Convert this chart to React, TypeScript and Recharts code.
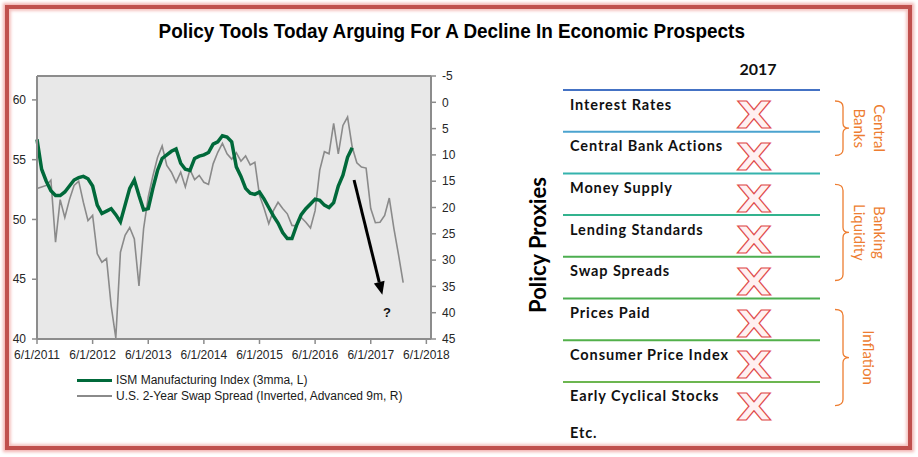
import { LineChart, Line, XAxis, YAxis, CartesianGrid, ReferenceLine, ReferenceDot } from 'recharts';

// x axis is months since 6/1/2011
const START_YEAR = 2011;
const xTicks = [0, 12, 24, 36, 48, 60, 72, 84];
const leftTicks = [40, 45, 50, 55, 60];
const rightTicks = [-5, 0, 5, 10, 15, 20, 25, 30, 35, 40, 45];

// ISM Manufacturing Index (3mma), monthly from Jun 2011
const ismValues = [
  56.7, 54.2, 53.2, 52.4, 52.0, 52.0, 52.3, 52.8, 53.3, 53.5, 53.6, 53.4,
  52.8, 51.2, 50.5, 50.7, 50.9, 50.4, 49.8, 51.2, 52.6, 53.3, 52.0, 50.8,
  50.9, 52.6, 54.1, 55.1, 55.4, 55.7, 55.9, 54.7, 54.2, 54.1, 55.1, 55.3,
  55.4, 55.6, 56.3, 56.5, 57.0, 56.9, 56.5, 54.4, 53.6, 52.6, 52.2, 52.1,
  52.3, 51.7, 51.0, 50.3, 49.7, 48.9, 48.4, 48.4, 49.5, 50.4, 50.9, 51.3,
  51.7, 51.6, 51.2, 51.0, 51.4, 52.8, 53.7, 55.2, 56.0,
];

// U.S. 2-Year Swap Spread (inverted, advanced 9m), monthly from Jun 2011
const swapValues = [
  16.4, 16.1, 15.8, 14.8, 26.6, 18.5, 21.9, 18.5, 15.8, 15.0, 19.0, 22.5,
  21.5, 28.8, 30.4, 29.7, 38.7, 44.8, 28.5, 25.3, 23.8, 26.0, 34.9, 24.0,
  18.0, 14.0, 10.5, 8.3, 12.0, 13.3, 15.2, 13.3, 16.1, 12.8, 14.7, 13.9,
  15.2, 15.6, 11.7, 9.5, 7.8, 9.8, 10.8, 9.6, 11.2, 10.2, 11.9, 11.4,
  17.7, 20.2, 23.1, 20.6, 19.0, 20.2, 21.2, 23.4, 23.5, 21.9, 22.8, 23.9,
  20.6, 12.9, 9.4, 9.8, 4.0, 9.8, 4.4, 2.8, 8.5, 11.5, 12.3, 12.5,
  20.2, 22.9, 22.8, 21.5, 18.2, 24.0, 29.0, 34.3,
];

// arrow annotation (month, left-axis value)
const arrowFrom = { x: 68.4, y: 53.3 };
const arrowTo = { x: 74.5, y: 43.7 };
const questionMark = { x: 75.5, y: 42.2 };

const proxies = [
  'Interest Rates',
  'Central Bank Actions',
  'Money Supply',
  'Lending Standards',
  'Swap Spreads',
  'Prices Paid',
  'Consumer Price Index',
  'Early Cyclical Stocks',
];
const proxyLineColors = ['#4472c4', '#4ba3cf', '#35b3ad', '#33b38e', '#4cae50', '#4cae50', '#52b04a', '#6cb650'];
const groups = [
  { lines: ['Central', 'Banks'], from: 0, to: 2 },
  { lines: ['Banking', 'Liquidity'], from: 2, to: 5 },
  { lines: ['Inflation'], from: 5, to: 8 },
];

const chartData = swapValues.map((swap, m) => ({
  m,
  swap,
  ism: m < ismValues.length ? ismValues[m] : null,
}));

const axisFont = { fontFamily: '"Liberation Sans", Arial, sans-serif', fontSize: 12, fill: '#262626' };
const axisStroke = { stroke: '#8c8c8c', strokeWidth: 2 };
const calibri = 'Lato, "Open Sans", sans-serif';

const ROW_TOP = 90;
const ROW_H = 41.7;

function Arrow(props: any) {
  const { x1, y1, x2, y2 } = props;
  const ang = Math.atan2(y2 - y1, x2 - x1);
  const len = 13;
  const hw = 5.5;
  const bx = x2 - len * Math.cos(ang);
  const by = y2 - len * Math.sin(ang);
  const px = -Math.sin(ang) * hw;
  const py = Math.cos(ang) * hw;
  return (
    <g>
      <line x1={x1} y1={y1} x2={bx} y2={by} stroke="#000" strokeWidth={3} />
      <polygon points={`${x2},${y2} ${bx + px},${by + py} ${bx - px},${by - py}`} fill="#000" />
    </g>
  );
}

function PolicyPanel() {
  return (
    <svg width={918} height={457} style={{ position: 'absolute', left: 0, top: 0 }}>
      <text x={758} y={68} textAnchor="middle" dominantBaseline="central" fontFamily={calibri} fontWeight="bold" fontSize={16} fill="#111">
        2017
      </text>
      <text
        transform="translate(537,245) rotate(-90)"
        textAnchor="middle"
        dominantBaseline="central"
        fontFamily={calibri}
        fontWeight="bold"
        fontSize={22}
        fill="#000"
      >
        Policy Proxies
      </text>
      {proxies.map((p, i) => {
        const top = ROW_TOP + i * ROW_H;
        return (
          <g key={p}>
            <line x1={563} x2={820} y1={top} y2={top} stroke={proxyLineColors[i]} strokeWidth={2} />
            <text x={570} y={top + 14} dominantBaseline="central" fontFamily={calibri} fontWeight="bold" fontSize={14.5} letterSpacing={0.9} fill="#111">
              {p}
            </text>
            <text
              transform={`translate(754,${top + 25}) scale(1.2,1)`}
              textAnchor="middle"
              dominantBaseline="central"
              fontFamily='"DejaVu Sans", sans-serif'
              fontWeight="bold"
              fontSize={38}
              fill="#fff0f0"
              stroke="#e04a4a"
              strokeWidth={1.1}
            >
              X
            </text>
          </g>
        );
      })}
      <text x={570} y={ROW_TOP + proxies.length * ROW_H + 9} dominantBaseline="central" fontFamily={calibri} fontWeight="bold" fontSize={14.5} letterSpacing={0.9} fill="#111">
        Etc.
      </text>
      {groups.map((g) => {
        const top = ROW_TOP + g.from * ROW_H + 11;
        const bottom = ROW_TOP + g.to * ROW_H - 18;
        const mid = (top + bottom) / 2;
        const textX = g.lines.length > 1 ? 880 : 869;
        return (
          <g key={g.lines.join(' ')}>
            <path
              d={`M835,${top} Q843,${top} 843,${top + 6} L843,${mid - 5} Q843,${mid} 849,${mid} Q843,${mid} 843,${mid + 5} L843,${bottom - 6} Q843,${bottom} 835,${bottom}`}
              fill="none"
              stroke="#ed7d31"
              strokeWidth={1.3}
            />
            {g.lines.map((l, k) => (
              <text
                key={l}
                transform={`translate(${textX - k * 20},${mid}) rotate(90)`}
                textAnchor="middle"
                dominantBaseline="central"
                fontFamily={calibri}
                fontSize={15}
                fill="#ed7d31"
              >
                {l}
              </text>
            ))}
          </g>
        );
      })}
    </svg>
  );
}

export default function App() {
  return (
    <div style={{ position: 'absolute', left: 0, top: 0, width: 918, height: 457, background: '#fff', overflow: 'hidden' }}>
      <div
        style={{
          position: 'absolute',
          left: 5,
          top: 5,
          width: 907,
          height: 445,
          boxSizing: 'border-box',
          border: '4px solid #c0504d',
          boxShadow: '0 0 3px 2px #f2b2b0, inset 0 0 3px 2px #f5c4c2',
        }}
      />
      <div style={{ position: 'absolute', left: 0, width: 904, top: 19, textAlign: 'center' }}>
        <span
          style={{
            display: 'inline-block',
            transform: 'scaleX(0.9)',
            fontFamily: '"Liberation Sans", Arial, sans-serif',
            fontWeight: 'bold',
            fontSize: 21,
            color: '#000',
            whiteSpace: 'nowrap',
          }}
        >
          Policy Tools Today Arguing For A Decline In Economic Prospects
        </span>
      </div>

      <div style={{ position: 'absolute', left: 0, top: 60 }}>
        <LineChart width={470} height={320} data={chartData} margin={{ top: 15, right: 9, bottom: 16, left: 0 }}>
          <CartesianGrid horizontal={false} vertical={false} fill="#e8e8e8" />
          <XAxis
            dataKey="m"
            type="number"
            domain={[0, 85]}
            ticks={xTicks}
            tickFormatter={(m: number) => `6/1/${START_YEAR + m / 12}`}
            tick={axisFont}
            axisLine={axisStroke}
            tickLine={{ stroke: '#8c8c8c', strokeWidth: 1.5 }}
            tickSize={5}
            tickMargin={6}
            height={25}
            interval={0}
          />
          <XAxis
            xAxisId="top"
            orientation="top"
            dataKey="m"
            type="number"
            domain={[0, 85]}
            tick={false}
            tickLine={false}
            axisLine={axisStroke}
            height={1}
          />
          <YAxis
            domain={[40, 62]}
            ticks={leftTicks}
            tick={axisFont}
            axisLine={axisStroke}
            tickLine={{ stroke: '#8c8c8c', strokeWidth: 1.5 }}
            tickSize={5}
            tickMargin={6}
            width={37}
            allowDataOverflow
          />
          <YAxis
            yAxisId="right"
            orientation="right"
            reversed
            domain={[-5, 45]}
            ticks={rightTicks}
            tick={{ ...axisFont, textAnchor: 'start' }}
            axisLine={axisStroke}
            tickLine={{ stroke: '#8c8c8c', strokeWidth: 1.5 }}
            tickSize={5}
            tickMargin={6}
            width={30}
            interval={0}
          />
          <Line
            yAxisId="right"
            type="linear"
            dataKey="swap"
            stroke="#8a8a8a"
            strokeWidth={1.6}
            dot={false}
            isAnimationActive={false}
          />
          <Line
            type="linear"
            dataKey="ism"
            stroke="#00693a"
            strokeWidth={3.5}
            dot={false}
            connectNulls={false}
            isAnimationActive={false}
          />
          <ReferenceLine segment={[arrowFrom, arrowTo]} shape={Arrow} ifOverflow="visible" />
          <ReferenceDot
            x={questionMark.x}
            y={questionMark.y}
            r={0}
            ifOverflow="visible"
            shape={(p: any) => (
              <text x={p.cx} y={p.cy} textAnchor="middle" dominantBaseline="central" fontFamily='"Liberation Sans", Arial, sans-serif' fontWeight="bold" fontSize={13} fill="#111">
                ?
              </text>
            )}
          />
        </LineChart>
      </div>

      <div style={{ position: 'absolute', left: 77, top: 372, fontFamily: '"Liberation Sans", Arial, sans-serif', fontSize: 12, color: '#1a1a1a', lineHeight: '16px' }}>
        <div style={{ display: 'flex', alignItems: 'center' }}>
          <span style={{ display: 'inline-block', width: 35, height: 3, background: '#00693a', marginRight: 4 }} />
          ISM Manufacturing Index (3mma, L)
        </div>
        <div style={{ display: 'flex', alignItems: 'center' }}>
          <span style={{ display: 'inline-block', width: 35, height: 2, background: '#8a8a8a', marginRight: 4 }} />
          U.S. 2-Year Swap Spread (Inverted, Advanced 9m, R)
        </div>
      </div>

      <PolicyPanel />
    </div>
  );
}
